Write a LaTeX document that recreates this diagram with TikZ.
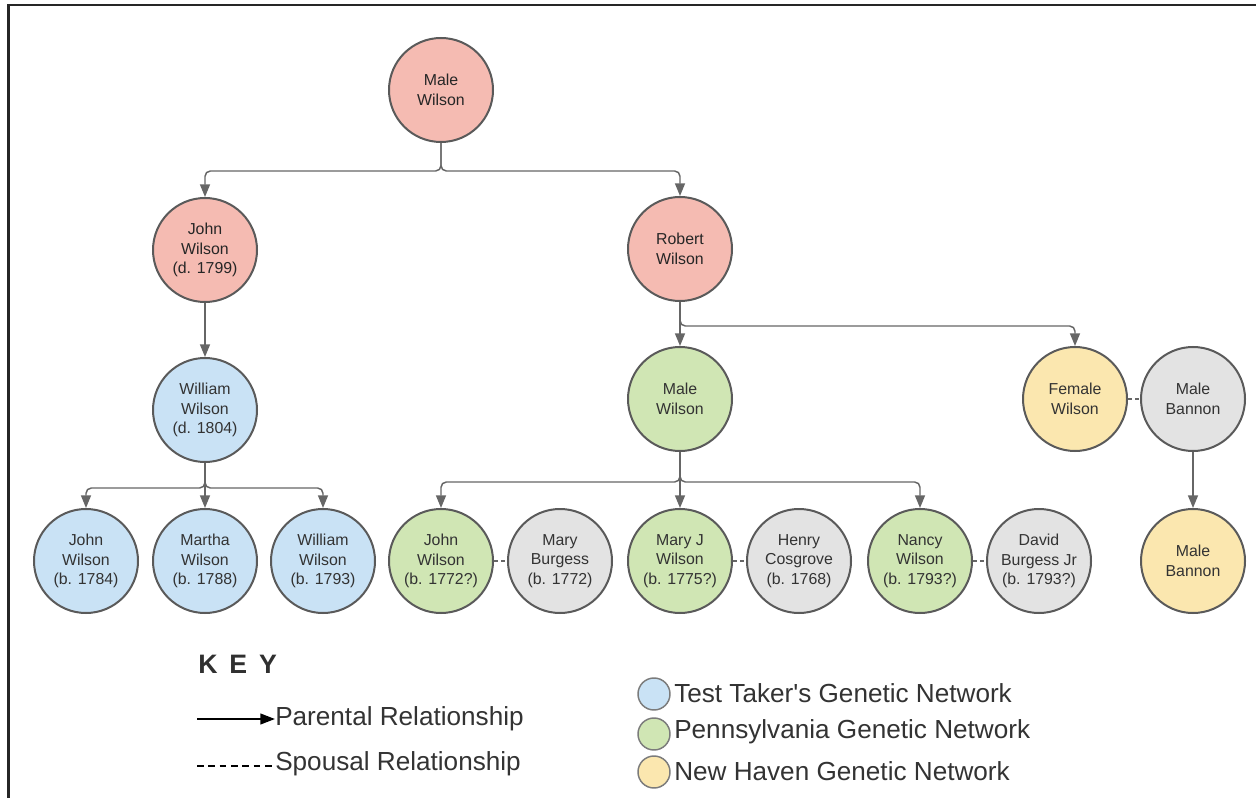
\documentclass[tikz,border=0pt]{standalone}
\usepackage{fontspec}
\setmainfont{Liberation Sans}
\newfontfamily\keyfont[WordSpace=1.6]{Liberation Sans}
\usetikzlibrary{arrows.meta}

\definecolor{ancestorfill}{HTML}{F5BBB2}
\definecolor{testfill}{HTML}{C9E2F5}
\definecolor{pennfill}{HTML}{D0E6B4}
\definecolor{havenfill}{HTML}{FBE7AF}
\definecolor{otherfill}{HTML}{E3E3E3}
\definecolor{rim}{HTML}{5A5A5A}
\definecolor{wire}{HTML}{666666}
\definecolor{ink}{HTML}{333333}

\tikzset{
  person/.style={circle, draw=rim, line width=1.5pt, minimum size=78pt, inner sep=0pt,
    align=center, text=ink, font=\fontsize{11.9}{14.6}\selectfont},
  ancestor/.style={person, fill=ancestorfill, text=black!85},
  testnet/.style={person, fill=testfill},
  pennnet/.style={person, fill=pennfill},
  havennet/.style={person, fill=havenfill},
  inlaw/.style={person, fill=otherfill},
  parentlink/.style={draw=wire, line width=1.1pt, rounded corners=4pt,
    -{Triangle[length=9.5pt,width=7.5pt]}},
  spouselink/.style={draw=wire, line width=1pt, dash pattern=on 3pt off 2.5pt},
  swatch/.style={circle, draw=rim!80, line width=1.1pt, minimum size=24pt, inner sep=0pt},
  keytext/.style={anchor=west, text=ink, inner sep=0pt, font=\fontsize{19.6}{23}\selectfont},
}

\begin{document}
\begin{tikzpicture}[x=0.75pt, y=-0.75pt]
\useasboundingbox (0,0) rectangle (1256,798);
\fill[white] (0,0) rectangle (1256,798);

% outer frame (open towards right and bottom)
\draw[line width=2pt, black!85] (8.5,798) -- (8.5,5) -- (1256,5);

% generation 0
\node[ancestor] (mw) at (441,90) {Male\\Wilson};
% generation 1
\node[ancestor] (jw) at (205,250) {John\\Wilson\\(d. 1799)};
\node[ancestor] (rw) at (680,249) {Robert\\Wilson};
% generation 2
\node[testnet]  (ww) at (205,410) {William\\Wilson\\(d. 1804)};
\node[pennnet]  (gm) at (680,399) {Male\\Wilson};
\node[havennet] (fw) at (1075,399) {Female\\Wilson};
\node[inlaw]    (mb) at (1193,399) {Male\\Bannon};
% generation 3
\node[testnet]  (j84) at (86,561)  {John\\Wilson\\(b. 1784)};
\node[testnet]  (m88) at (205,561) {Martha\\Wilson\\(b. 1788)};
\node[testnet]  (w93) at (323,561) {William\\Wilson\\(b. 1793)};
\node[pennnet]  (j72) at (441,561) {John\\Wilson\\(b. 1772?)};
\node[inlaw]    (mbg) at (560,561) {Mary\\Burgess\\(b. 1772)};
\node[pennnet]  (mj)  at (680,561) {Mary J\\Wilson\\(b. 1775?)};
\node[inlaw]    (hc)  at (799,561) {Henry\\Cosgrove\\(b. 1768)};
\node[pennnet]  (nw)  at (920,561) {Nancy\\Wilson\\(b. 1793?)};
\node[inlaw]    (db)  at (1039,561) {David\\Burgess Jr\\(b. 1793?)};
\node[havennet] (mbn) at (1193,561) {Male\\Bannon};

% parental links
\draw[parentlink] (mw.south) -- (441,171) -- (205,171) -- (jw.north);
\draw[parentlink] (mw.south) -- (441,171) -- (680,171) -- (rw.north);
\draw[parentlink] (jw.south) -- (ww.north);
\draw[parentlink] (rw.south) -- (gm.north);
\draw[parentlink] (rw.south) -- (680,326) -- (1075,326) -- (fw.north);
\draw[parentlink] (ww.south) -- (205,488) -- (86,488) -- (j84.north);
\draw[parentlink] (ww.south) -- (m88.north);
\draw[parentlink] (ww.south) -- (205,488) -- (323,488) -- (w93.north);
\draw[parentlink] (gm.south) -- (680,482) -- (441,482) -- (j72.north);
\draw[parentlink] (gm.south) -- (mj.north);
\draw[parentlink] (gm.south) -- (680,482) -- (920,482) -- (nw.north);
\draw[parentlink] (mb.south) -- (mbn.north);

% spousal links
\draw[spouselink] (j72.east) -- (mbg.west);
\draw[spouselink] (mj.east) -- (hc.west);
\draw[spouselink] (nw.east) -- (db.west);
\draw[spouselink] (fw.east) -- (mb.west);

% key
\node[anchor=west, inner sep=0pt, text=ink!95!black, font=\keyfont\bfseries\fontsize{20}{24}\selectfont] (keyhead) at (198,664) {K E Y};
\node[keytext] (partxt) at (275,719) {Parental Relationship};
\coordinate (parA) at (197,719);
\draw[black, line width=1.6pt, -{Triangle[length=11pt,width=8pt]}] (parA) -- (partxt.west |- parA);
\node[keytext] (spotxt) at (275,764) {Spousal Relationship};
\coordinate (spoA) at (197,766);
\draw[black, line width=1.3pt, dash pattern=on 5pt off 3.5pt] (spoA) -- (spotxt.west |- spoA);

% colour legend
\node[swatch, fill=testfill]  (sw1) at (654,694) {};
\node[swatch, fill=pennfill]  (sw2) at (654,734) {};
\node[swatch, fill=havenfill] (sw3) at (654,772) {};
\node[keytext] (lg1) at (674,693) {Test Taker\textquotesingle s Genetic Network};
\node[keytext] (lg2) at (674,732) {Pennsylvania Genetic Network};
\node[keytext] (lg3) at (674,771) {New Haven Genetic Network};
\end{tikzpicture}
\end{document}
